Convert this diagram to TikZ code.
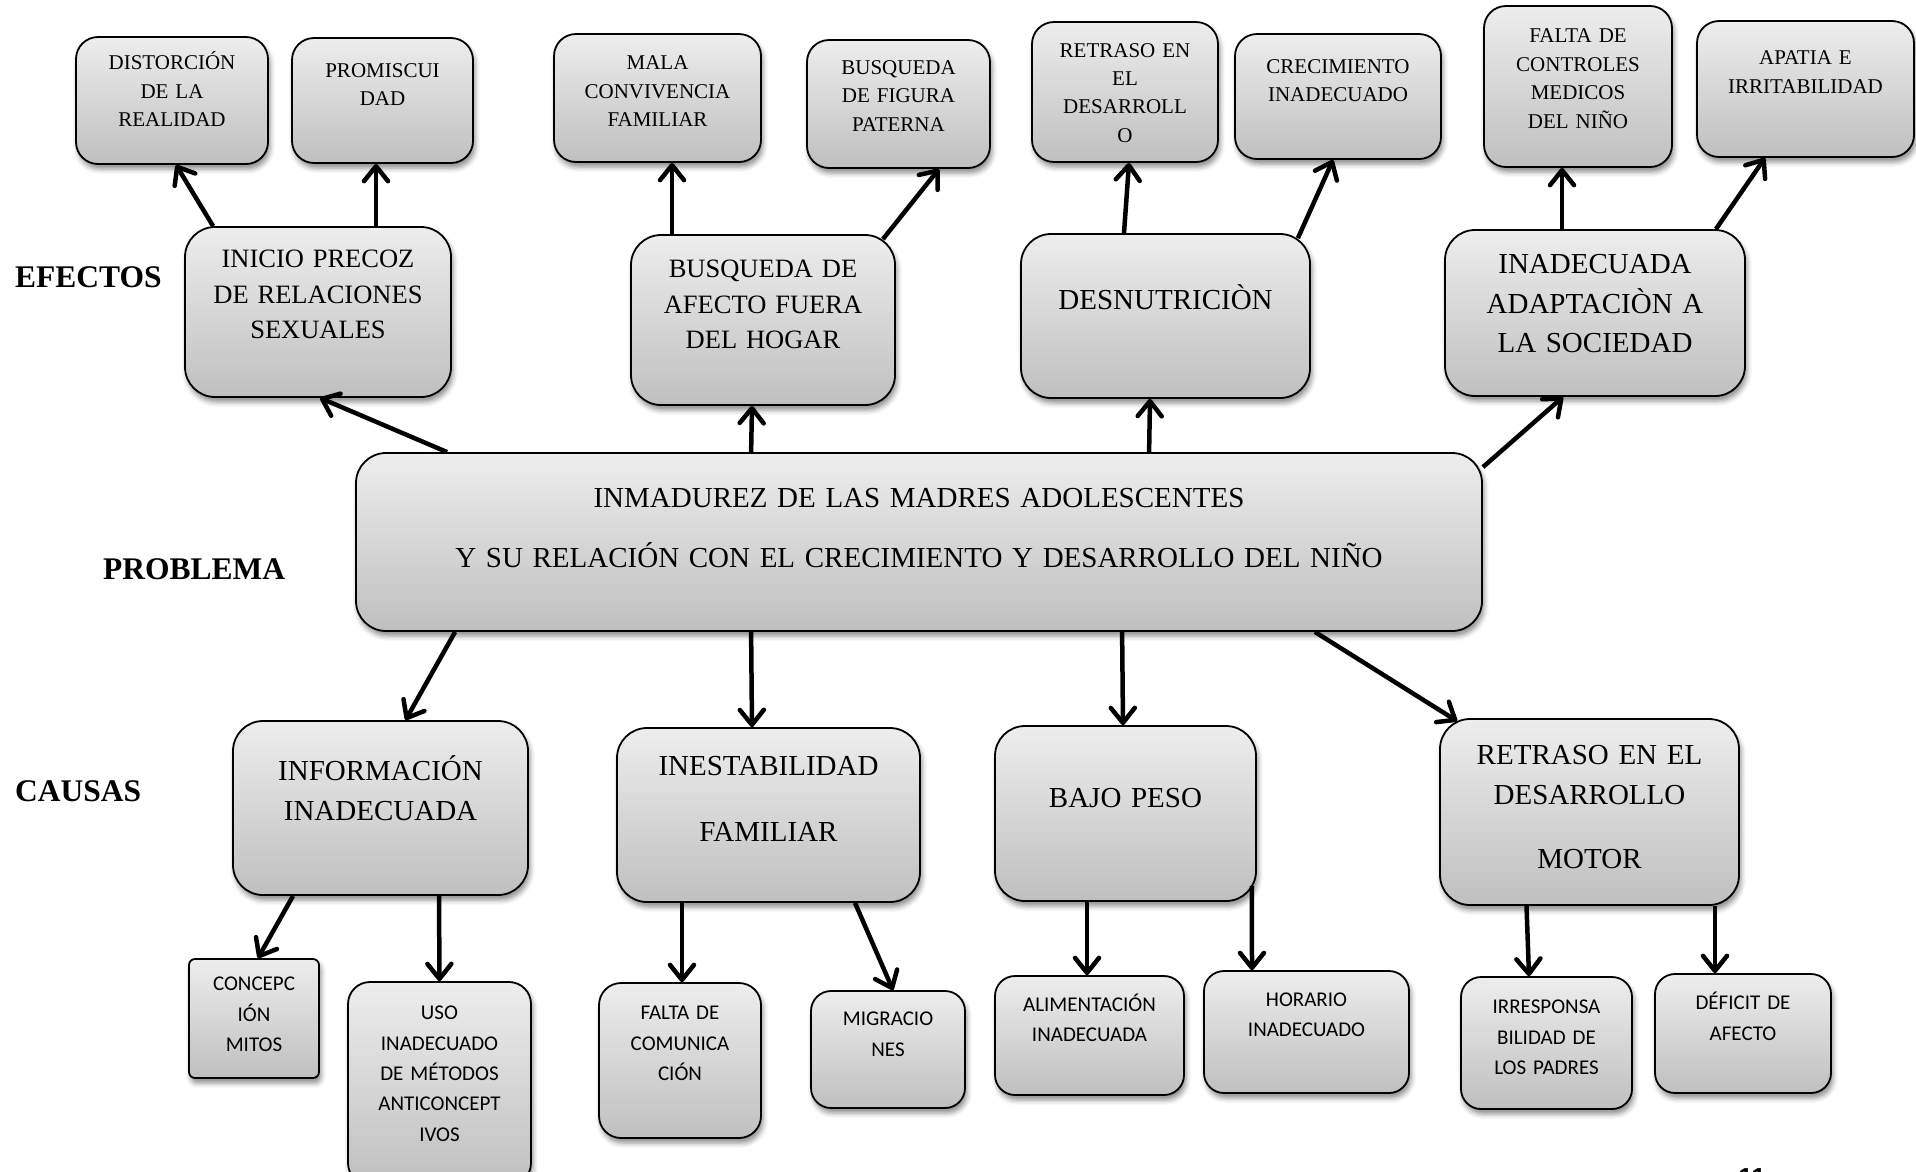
\documentclass[tikz,border=0pt]{standalone}
\usepackage{fontspec}
\setmainfont{Liberation Serif}
\newfontfamily\calibrifont{Carlito}
\newfontfamily\arialfont{Liberation Sans}
\usetikzlibrary{arrows.meta,shadows.blur}

\begin{document}
\begin{tikzpicture}[x=1pt, y=-1pt]

% ---------------- styles ----------------
\tikzset{
  caja/.style={draw=black, line width=1.8pt, rounded corners=#1, inner sep=0pt,
    top color=gray!14, bottom color=gray!50,
    blur shadow={shadow xshift=2pt, shadow yshift=-5pt, shadow blur radius=5pt, shadow opacity=45}},
  caja/.default=28pt,
  txtA/.style={font=\fontsize{29}{39.5}\selectfont, align=center, inner sep=0pt, text width=300pt, anchor=base},
  txtB/.style={font=\fontsize{26.5}{35.5}\selectfont, align=center, inner sep=0pt, text width=270pt, anchor=base},
  txtS/.style={font=\fontsize{21}{28.4}\selectfont, align=center, inner sep=0pt, text width=200pt, anchor=base},
  txtC/.style={font=\calibrifont\fontsize{21}{30.3}\selectfont, align=center, inner sep=0pt, text width=190pt, anchor=base},
  nivel/.style={font=\bfseries\fontsize{31.5}{36}\selectfont, anchor=base west, inner sep=0pt},
  flecha/.style={line width=4.5pt, -{Straight Barb[length=15pt, width=24pt, round]}}
}

\useasboundingbox (0,0) rectangle (1916,1171);

% ---------------- problema ----------------
\node[caja=30pt, minimum width=1126pt, minimum height=178pt] (prob) at (919,542) {};
\node[txtA, text width=1100pt] (probT) at ([yshift=-55pt]prob.north)
  {INMADUREZ DE LAS MADRES ADOLESCENTES\\[20.5pt]Y SU RELACIÓN CON EL CRECIMIENTO Y DESARROLLO DEL NIÑO};

% ---------------- efectos ----------------
\node[caja=30pt, minimum width=266pt, minimum height=170pt] (inicio)   at (318,312)    {};
\node[caja=30pt, minimum width=264pt, minimum height=170pt] (busqueda) at (763,320)    {};
\node[caja=30pt, minimum width=289pt, minimum height=164pt] (desnut)   at (1165.5,316) {};
\node[caja=30pt, minimum width=300pt, minimum height=166pt] (adapt)    at (1595,313)   {};

\node[txtB] (inicioT)   at ([yshift=-41.8pt]inicio.north)   {INICIO PRECOZ\\DE RELACIONES\\SEXUALES};
\node[txtB] (busquedaT) at ([yshift=-43.8pt]busqueda.north) {BUSQUEDA DE\\AFECTO FUERA\\DEL HOGAR};
\node[txtA] (desnutT)   at ([yshift=-76pt]desnut.north)     {DESNUTRICIÒN};
\node[txtA] (adaptT)    at ([yshift=-44.6pt]adapt.north)    {INADECUADA\\ADAPTACIÒN A\\LA SOCIEDAD};

\node[caja=22pt, minimum width=192pt, minimum height=127pt] (distor)    at (172,100.5)  {};
\node[caja=22pt, minimum width=181pt, minimum height=125pt] (promis)    at (382.5,100.5){};
\node[caja=22pt, minimum width=207pt, minimum height=128pt] (convive)   at (657.5,98)   {};
\node[caja=22pt, minimum width=183pt, minimum height=128pt] (figura)    at (898.5,104)  {};
\node[caja=22pt, minimum width=186pt, minimum height=140pt] (retrEf)    at (1125,92)    {};
\node[caja=22pt, minimum width=206pt, minimum height=125pt] (crecim)    at (1338,96.5)  {};
\node[caja=22pt, minimum width=188pt, minimum height=161pt] (controles) at (1578,86.5)  {};
\node[caja=22pt, minimum width=217pt, minimum height=136pt] (apatia)    at (1805.5,89)  {};

\node[txtS] (distorT)    at ([yshift=-33.5pt]distor.north)    {DISTORCIÓN\\DE LA\\REALIDAD};
\node[txtS] (promisT)    at ([yshift=-40pt]promis.north)      {PROMISCUI\\DAD};
\node[txtS] (conviveT)   at ([yshift=-36.5pt]convive.north)   {MALA\\CONVIVENCIA\\FAMILIAR};
\node[txtS] (figuraT)    at ([yshift=-35.4pt]figura.north)    {BUSQUEDA\\DE FIGURA\\PATERNA};
\node[txtS] (retrEfT)    at ([yshift=-36pt]retrEf.north)      {RETRASO EN\\EL\\DESARROLL\\O};
\node[txtS] (crecimT)    at ([yshift=-40pt]crecim.north)      {CRECIMIENTO\\INADECUADO};
\node[txtS] (controlesT) at ([yshift=-37.7pt]controles.north) {FALTA DE\\CONTROLES\\MEDICOS\\DEL NIÑO};
\node[txtS] (apatiaT)    at ([yshift=-44.6pt]apatia.north)    {APATIA E\\IRRITABILIDAD};

% ---------------- causas ----------------
\node[caja=30pt, minimum width=295pt, minimum height=174pt] (informa)  at (380.5,808)  {};
\node[caja=30pt, minimum width=303pt, minimum height=174pt] (inestab)  at (768.5,815)  {};
\node[caja=30pt, minimum width=261pt, minimum height=175pt] (bajopeso) at (1125.5,813.5) {};
\node[caja=30pt, minimum width=299pt, minimum height=186pt] (retrMot)  at (1589.5,812) {};

\node[txtA] (informaT)  at ([yshift=-60.6pt]informa.north)  {INFORMACIÓN\\INADECUADA};
\node[txtA] (inestabT)  at ([yshift=-48.6pt]inestab.north)  {INESTABILIDAD\\[26.5pt]FAMILIAR};
\node[txtA] (bajopesoT) at ([yshift=-82.6pt]bajopeso.north) {BAJO PESO};
\node[txtA] (retrMotT)  at ([yshift=-46.6pt]retrMot.north)  {RETRASO EN EL\\DESARROLLO\\[25pt]MOTOR};

\node[caja=6pt,  minimum width=130pt, minimum height=119pt] (concep)  at (254,1018.5)  {};
\node[caja=22pt, minimum width=183pt, minimum height=203pt] (usomet)  at (439.5,1083.5) {};
\node[caja=22pt, minimum width=162pt, minimum height=155pt] (comunic) at (680,1060.5)  {};
\node[caja=20pt, minimum width=154pt, minimum height=117pt] (migra)   at (888,1049.5)  {};
\node[caja=20pt, minimum width=189pt, minimum height=119pt] (alimen)  at (1089.5,1035.5) {};
\node[caja=20pt, minimum width=205pt, minimum height=122pt] (horario) at (1306.5,1032) {};
\node[caja=20pt, minimum width=171pt, minimum height=132pt] (irrespo) at (1546.5,1043) {};
\node[caja=20pt, minimum width=176pt, minimum height=119pt] (deficit) at (1743,1033.5) {};

\node[txtC] (concepT)  at ([yshift=-32.8pt]concep.north)  {CONCEPC\\IÓN\\MITOS};
\node[txtC] (usometT)  at ([yshift=-38.8pt]usomet.north)  {USO\\INADECUADO\\DE MÉTODOS\\ANTICONCEPT\\IVOS};
\node[txtC] (comunicT) at ([yshift=-37.8pt]comunic.north) {FALTA DE\\COMUNICA\\CIÓN};
\node[txtC] (migraT)   at ([yshift=-35.8pt]migra.north)   {MIGRACIO\\NES};
\node[txtC] (alimenT)  at ([yshift=-36.4pt]alimen.north)  {ALIMENTACIÓN\\INADECUADA};
\node[txtC] (horarioT) at ([yshift=-36.5pt]horario.north) {HORARIO\\INADECUADO};
\node[txtC] (irrespoT) at ([yshift=-37.8pt]irrespo.north) {IRRESPONSA\\BILIDAD DE\\LOS PADRES};
\node[txtC] (deficitT) at ([yshift=-36.8pt]deficit.north) {DÉFICIT DE\\AFECTO};

% ---------------- niveles ----------------
\node[nivel] (efectos)  at (15,287)  {EFECTOS};
\node[nivel] (problema) at (103,579) {PROBLEMA};
\node[nivel] (causas)   at (15,801)  {CAUSAS};
\node[font=\arialfont\bfseries\fontsize{26}{30}\selectfont, anchor=base, inner sep=0pt] (pagina) at (1752,1186) {11};

% ---------------- flechas ----------------
\draw[flecha] ([xshift=92pt]prob.north west)  -- ([xshift=2pt]inicio.south);
\draw[flecha] ([xshift=396pt]prob.north west) -- ([xshift=-11pt]busqueda.south);
\draw[flecha] ([xshift=794pt]prob.north west) -- ([xshift=-15.5pt]desnut.south);
\draw[flecha] ([yshift=-15pt]prob.north east) -- ([xshift=-32pt]adapt.south);

\draw[flecha] ([xshift=100pt]prob.south west)  -- ([xshift=25pt]informa.north);
\draw[flecha] ([xshift=396pt]prob.south west)  -- ([xshift=-16.5pt]inestab.north);
\draw[flecha] ([xshift=767pt]prob.south west)  -- ([xshift=-2.5pt]bajopeso.north);
\draw[flecha] ([xshift=-168pt]prob.south east) -- ([xshift=18pt,yshift=-3pt]retrMot.north west);

\draw[flecha] ([xshift=29pt]inicio.north west)            -- ([xshift=4pt]distor.south);
\draw[flecha] ([xshift=58pt]inicio.north)                 -- ([xshift=-6.5pt]promis.south);
\draw[flecha] ([xshift=-91pt]busqueda.north)              -- ([xshift=14.5pt]convive.south);
\draw[flecha] ([xshift=-13pt,yshift=-5pt]busqueda.north east) -- ([xshift=40.5pt]figura.south);
\draw[flecha] ([xshift=-41.5pt]desnut.north)              -- ([xshift=4pt]retrEf.south);
\draw[flecha] ([xshift=-13pt,yshift=-5pt]desnut.north east) -- ([xshift=-5pt]crecim.south);
\draw[flecha] ([xshift=-33pt]adapt.north)                 -- ([xshift=-16pt]controles.south);
\draw[flecha] ([xshift=-30pt]adapt.north east)            -- ([xshift=-40.5pt]apatia.south);

\draw[flecha] ([xshift=-87.5pt]informa.south) -- ([xshift=4pt]concep.north);
\draw[flecha] ([xshift=58.5pt]informa.south)  -- (usomet.north);
\draw[flecha] ([xshift=-86.5pt]inestab.south) -- ([xshift=2pt]comunic.north);
\draw[flecha] ([xshift=86.5pt]inestab.south)  -- ([xshift=5pt]migra.north);
\draw[flecha] ([xshift=-38.5pt]bajopeso.south) -- ([xshift=-2.5pt]alimen.north);
\draw[flecha] ([xshift=-5pt,yshift=16pt]bajopeso.south east) -- ([xshift=-54.5pt]horario.north);
\draw[flecha] ([xshift=-63pt]retrMot.south)   -- ([xshift=-17.5pt]irrespo.north);
\draw[flecha] ([xshift=125.5pt]retrMot.south) -- ([xshift=-28pt]deficit.north);

\end{tikzpicture}
\end{document}
